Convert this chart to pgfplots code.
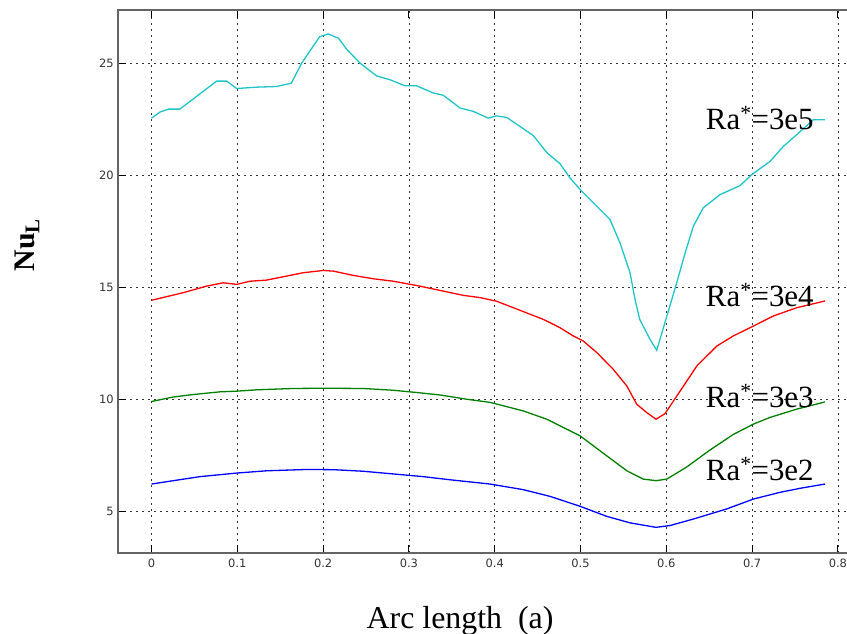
\documentclass[border=0pt]{standalone}
\usepackage{pgfplots}
\pgfplotsset{compat=1.18}
\usepackage{fontspec}
\setmainfont{Liberation Serif}
\newfontfamily\tickfont{DejaVu Sans}

\definecolor{cyanline}{RGB}{32,196,200}
\definecolor{greenline}{RGB}{0,128,0}
\definecolor{axisgray}{RGB}{100,100,100}

\begin{document}
\begin{tikzpicture}[x=1bp,y=1bp]
\useasboundingbox (0,0) rectangle (847,634);
\begin{axis}[
    at={(118.3bp,81.3bp)}, anchor=south west,
    scale only axis,
    width=728.7bp, height=542.7bp,
    xmin=-0.0387, xmax=0.8106,
    ymin=3.18, ymax=27.37,
    xtick={0,0.1,0.2,0.3,0.4,0.5,0.6,0.7,0.8},
    xticklabels={0,0.1,0.2,0.3,0.4,0.5,0.6,0.7,0.8},
    ytick={5,10,15,20,25},
    yticklabels={5,10,15,20,25},
    xtick pos=both, ytick pos=left,
    tick align=inside,
    major tick length=8bp,
    tick style={black, line width=1.1bp},
    grid=major,
    major grid style={black!80, line width=0.8bp, dash pattern=on 1.2bp off 4.8bp},
    axis line style={draw=none},
    clip=false,
    /pgf/number format/assume math mode=true,
    tick label style={font=\tickfont\fontsize{11.5}{13}\selectfont, text=black!80},
    xticklabel style={yshift=-3bp},
    yticklabel style={xshift=-1bp},
    xlabel={Arc length~ (a)},
    xlabel style={font=\fontsize{32}{36}\selectfont, at={(axis description cs:0.469,-0.1388)}, anchor=base},
    ylabel={\textbf{Nu}\textsubscript{\textbf{L}}},
    ylabel style={font=\fontsize{30}{34}\selectfont, at={(axis description cs:-0.1253,0.567)}, anchor=center},
]
% Ra*=3e5
\addplot[cyanline, line width=1.3bp] coordinates {
(0,22.55) (0.0099,22.82) (0.0196,22.95) (0.033,22.95) (0.076,24.2) (0.0876,24.2)
(0.0993,23.87) (0.1226,23.93) (0.146,23.96) (0.163,24.11) (0.175,25.0) (0.196,26.18)
(0.206,26.3) (0.218,26.11) (0.2275,25.62) (0.243,25.0) (0.2625,24.43) (0.278,24.26)
(0.2955,23.99) (0.309,23.99) (0.3285,23.67) (0.340,23.57) (0.3596,23.0) (0.375,22.85)
(0.3925,22.55) (0.402,22.65) (0.414,22.58) (0.4295,22.18) (0.445,21.77) (0.4606,21.02)
(0.476,20.52) (0.4878,19.88) (0.5014,19.29) (0.515,18.77) (0.5344,18.03) (0.546,16.99)
(0.5577,15.66) (0.5635,14.47) (0.569,13.58) (0.581,12.69) (0.5888,12.2) (0.5995,13.58)
(0.611,15.06) (0.622,16.55) (0.6315,17.73) (0.643,18.55) (0.6626,19.14) (0.6859,19.54)
(0.6995,20.03) (0.7209,20.62) (0.7364,21.29) (0.752,21.81) (0.7713,22.48) (0.785,22.48)
};
% Ra*=3e4
\addplot[red, line width=1.3bp] coordinates {
(0,14.43) (0.037,14.77) (0.064,15.06) (0.0837,15.21) (0.0993,15.14) (0.1148,15.28)
(0.134,15.33) (0.1576,15.51) (0.177,15.66) (0.2002,15.76) (0.212,15.73) (0.235,15.54)
(0.2585,15.39) (0.2818,15.28) (0.309,15.09) (0.3363,14.87) (0.3634,14.65) (0.3829,14.55)
(0.402,14.39) (0.4217,14.10) (0.4566,13.58) (0.476,13.21) (0.4916,12.84) (0.503,12.62)
(0.519,12.10) (0.538,11.36) (0.554,10.61) (0.5655,9.80) (0.577,9.43) (0.588,9.13)
(0.5985,9.38) (0.62,10.61) (0.6355,11.50) (0.6588,12.39) (0.678,12.84) (0.7014,13.28)
(0.7247,13.73) (0.752,14.10) (0.785,14.40)
};
% Ra*=3e3
\addplot[greenline, line width=1.3bp] coordinates {
(0,9.92) (0.0254,10.12) (0.0487,10.23) (0.0798,10.35) (0.0993,10.38) (0.1226,10.44)
(0.1653,10.50) (0.200,10.51) (0.2469,10.50) (0.2818,10.42) (0.309,10.32) (0.3363,10.21)
(0.3674,10.02) (0.3945,9.88) (0.4333,9.50) (0.4606,9.13) (0.4994,8.39) (0.5305,7.50)
(0.554,6.83) (0.5732,6.46) (0.588,6.39) (0.6005,6.46) (0.6238,7.0) (0.651,7.76)
(0.678,8.45) (0.7014,8.91) (0.7209,9.21) (0.752,9.58) (0.785,9.90)
};
% Ra*=3e2
\addplot[blue, line width=1.3bp] coordinates {
(0,6.24) (0.0254,6.39) (0.0565,6.57) (0.0993,6.73) (0.134,6.83) (0.181,6.89)
(0.212,6.88) (0.2469,6.81) (0.2818,6.69) (0.3168,6.57) (0.348,6.43) (0.375,6.32)
(0.3945,6.24) (0.4333,5.99) (0.4645,5.69) (0.4994,5.25) (0.5305,4.80) (0.5577,4.51)
(0.588,4.31) (0.6043,4.39) (0.6315,4.68) (0.6704,5.13) (0.7014,5.57) (0.7325,5.87)
(0.7558,6.05) (0.785,6.24)
};
% frame: left, top, bottom (right side cropped in the reference)
\draw[axisgray, line width=2bp] (rel axis cs:1,1) -- (rel axis cs:0,1) -- (rel axis cs:0,0) -- (rel axis cs:1,0);
% curve labels
\begin{scope}[every node/.style={anchor=base west, inner sep=0pt, font=\fontsize{31}{34}\selectfont}]
\node at (axis cs:0.646,22.03) {Ra\textsuperscript{*}=3e5};
\node at (axis cs:0.646,14.14) {Ra\textsuperscript{*}=3e4};
\node at (axis cs:0.646,9.65) {Ra\textsuperscript{*}=3e3};
\node at (axis cs:0.646,6.39) {Ra\textsuperscript{*}=3e2};
\end{scope}
\end{axis}
\end{tikzpicture}
\end{document}
